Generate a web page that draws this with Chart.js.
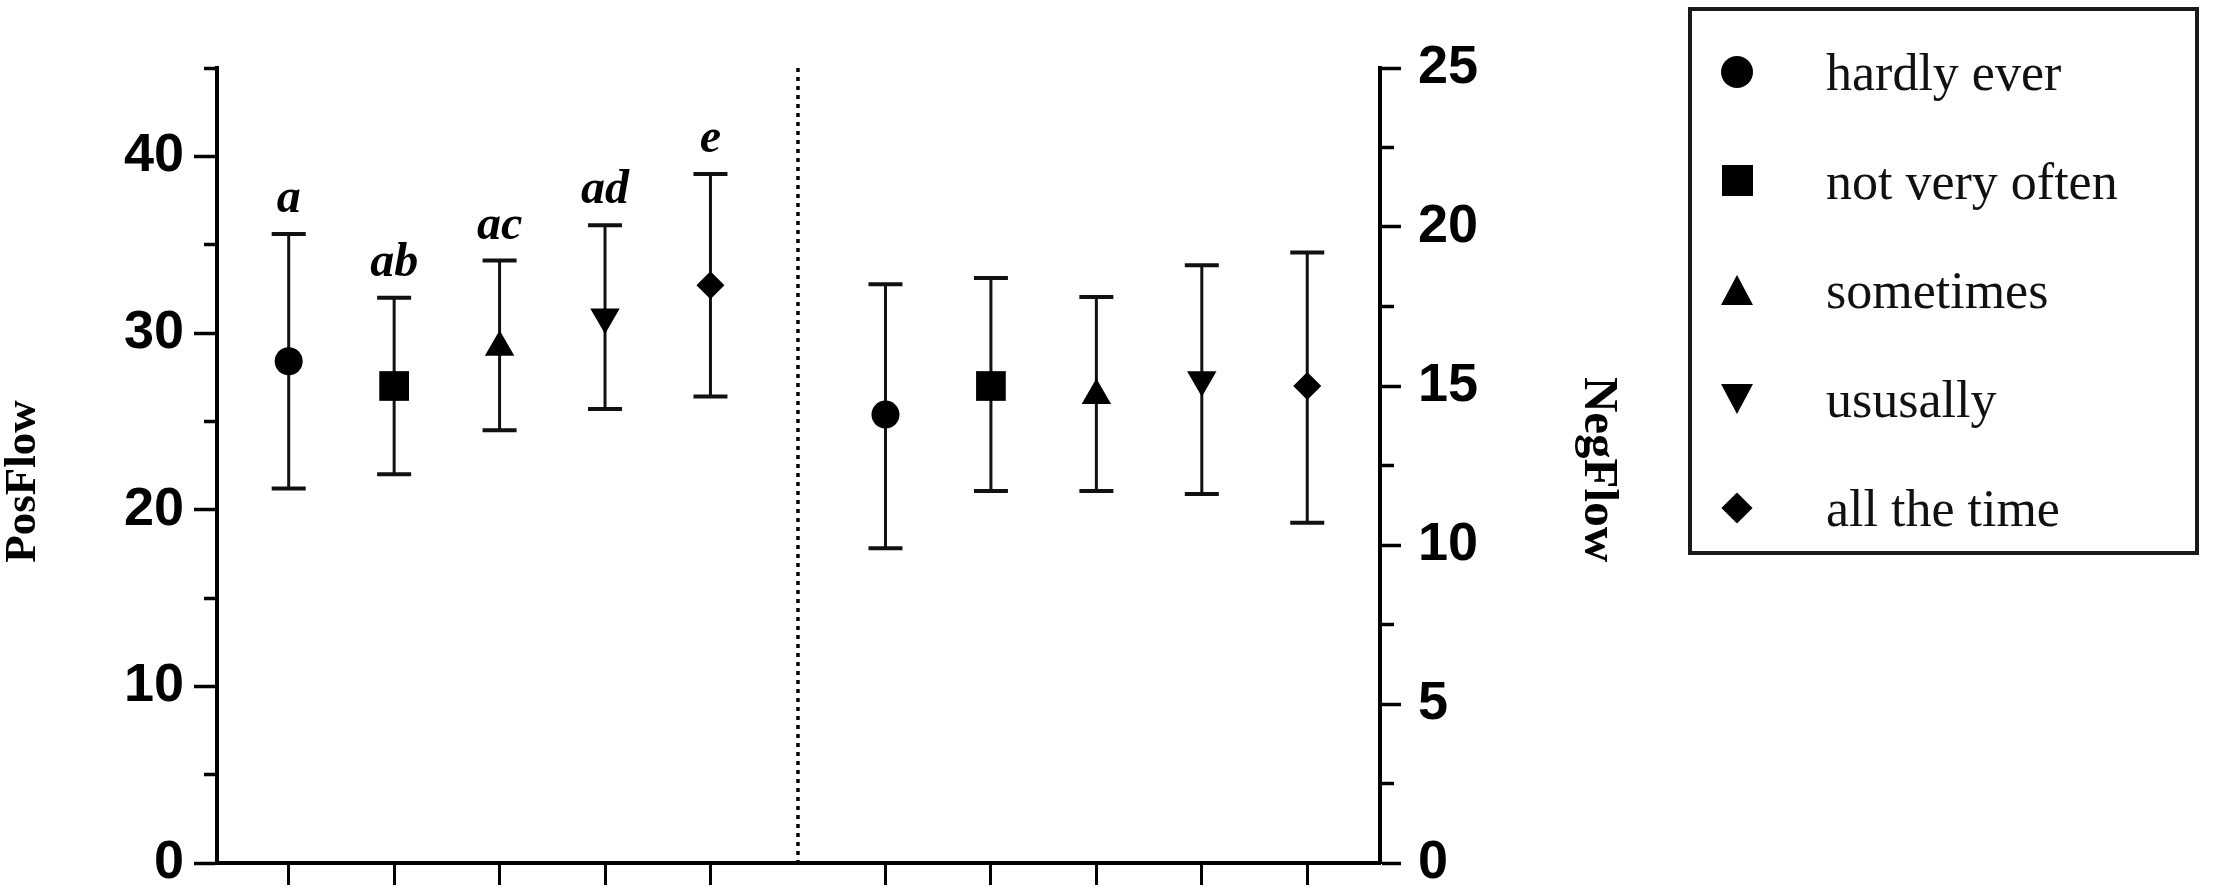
<!DOCTYPE html>
<html>
<head>
<meta charset="utf-8">
<script src="https://cdn.jsdelivr.net/npm/chart.js@4.4.1/dist/chart.umd.min.js"></script>
<style>
  html, body { margin: 0; padding: 0; background: #fff; }
  #wrap { position: relative; width: 2228px; height: 894px; }
  #legend {
    position: absolute; left: 1688px; top: 7px; width: 511px; height: 548px;
    box-sizing: border-box; border: 4px solid #1a1a1a; padding-top: 6px;
  }
  .row { position: relative; height: 109px; }
  .sym { position: absolute; }
  .txt {
    position: absolute; left: 134px; top: 50%; transform: translateY(-50%);
    font: 52px "Liberation Serif", "Times New Roman", serif; color: #111; white-space: nowrap;
  }
</style>
</head>
<body>
<div id="wrap">
  <canvas id="chart" width="2228" height="894"></canvas>
  <div id="legend"></div>
</div>
<script>
// frequency groups, same order in both panels
const categories = ['hardly ever', 'not very often', 'sometimes', 'ususally', 'all the time'];
const sigLetters = ['a', 'ab', 'ac', 'ad', 'e'];

// PosFlow (left axis): mean and error-bar ends
const posMean = [28.4, 27.0, 29.2, 30.9, 32.7];
const posLow = [21.2, 22.0, 24.5, 25.7, 26.4];
const posHigh = [35.6, 32.0, 34.1, 36.1, 39.0];

// NegFlow (right axis)
const negMean = [14.1, 15.0, 14.7, 15.2, 15.0];
const negLow = [9.9, 11.7, 11.7, 11.6, 10.7];
const negHigh = [18.2, 18.4, 17.8, 18.8, 19.2];

// marker look per group
const shapes = ['circle', 'rect', 'triangle', 'triangle', 'rectRot'];
const rotations = [0, 0, 0, 180, 0];
const radii = [14, 21, 17, 17, 14];

const NEG_OFFSET = 5.66;   // where the second panel starts on x
const SEPARATOR = 5.83;    // dotted divider
const serif = '"Liberation Serif", "Times New Roman", serif';
const sans = '"Liberation Sans", Arial, sans-serif';

function points(means, offset) {
  return means.map((m, i) => ({ x: i + 1 + offset, y: m }));
}
const tickXs = points(posMean, 0).concat(points(negMean, NEG_OFFSET)).map((p) => p.x);

const markerOpts = {
  showLine: false,
  pointStyle: shapes,
  pointRotation: rotations,
  pointRadius: radii,
  pointHoverRadius: radii,
  pointBackgroundColor: '#000',
  pointBorderColor: '#000',
  pointBorderWidth: 0
};

const errorBars = {
  id: 'errorBars',
  beforeDatasetsDraw(chart) {
    const ctx = chart.ctx;
    const xs = chart.scales.x;
    const area = chart.chartArea;
    // dotted divider between the two panels
    ctx.save();
    ctx.strokeStyle = '#000';
    ctx.lineWidth = 3.5;
    ctx.setLineDash([4, 5]);
    const sx = xs.getPixelForValue(SEPARATOR);
    ctx.beginPath();
    ctx.moveTo(sx, area.top);
    ctx.lineTo(sx, area.bottom);
    ctx.stroke();
    ctx.restore();

    chart.data.datasets.forEach((ds) => {
      const ys = chart.scales[ds.yAxisID];
      ds.data.forEach((p, i) => {
        const x = xs.getPixelForValue(p.x);
        const yTop = ys.getPixelForValue(ds.high[i]);
        const yBot = ys.getPixelForValue(ds.low[i]);
        ctx.save();
        ctx.strokeStyle = '#111';
        ctx.lineWidth = 3;
        ctx.beginPath();
        ctx.moveTo(x, yTop);
        ctx.lineTo(x, yBot);
        ctx.stroke();
        ctx.lineWidth = 4;
        ctx.beginPath();
        ctx.moveTo(x - 17, yTop);
        ctx.lineTo(x + 17, yTop);
        ctx.moveTo(x - 17, yBot);
        ctx.lineTo(x + 17, yBot);
        ctx.stroke();
        ctx.restore();
      });
    });
  },
  afterDatasetsDraw(chart) {
    const ctx = chart.ctx;
    const xs = chart.scales.x;
    chart.data.datasets.forEach((ds) => {
      if (!ds.letters) return;
      const ys = chart.scales[ds.yAxisID];
      ctx.save();
      ctx.fillStyle = '#000';
      ctx.font = 'italic bold 48px ' + serif;
      ctx.textAlign = 'center';
      ctx.textBaseline = 'alphabetic';
      ds.data.forEach((p, i) => {
        ctx.fillText(ds.letters[i], xs.getPixelForValue(p.x), ys.getPixelForValue(ds.high[i]) - 22);
      });
      ctx.restore();
    });
  },
  afterDraw(chart) {
    // axis titles, rotated like the original
    const ctx = chart.ctx;
    const { y, y1 } = chart.scales;
    ctx.save();
    ctx.fillStyle = '#000';
    ctx.textAlign = 'center';
    ctx.textBaseline = 'middle';
    ctx.font = 'bold 45px ' + serif;
    ctx.translate(y.left + 23, (y.top + y.bottom) / 2 + 16);
    ctx.rotate(-Math.PI / 2);
    ctx.fillText('PosFlow', 0, 0);
    ctx.restore();
    ctx.save();
    ctx.fillStyle = '#000';
    ctx.textAlign = 'center';
    ctx.textBaseline = 'middle';
    ctx.font = 'bold 49px ' + serif;
    ctx.translate(y1.right - 23, (y1.top + y1.bottom) / 2 + 4);
    ctx.rotate(Math.PI / 2);
    ctx.fillText('NegFlow', 0, 0);
    ctx.restore();
  }
};

function fixWidth(w) {
  return (s) => {
    s.width = w;
    s.paddingTop = 0;
    s.paddingBottom = 0;
  };
}

new Chart(document.getElementById('chart').getContext('2d'), {
  type: 'scatter',
  data: {
    datasets: [
      { label: 'PosFlow', data: points(posMean, 0), yAxisID: 'y', low: posLow, high: posHigh, letters: sigLetters, ...markerOpts },
      { label: 'NegFlow', data: points(negMean, NEG_OFFSET), yAxisID: 'y1', low: negLow, high: negHigh, ...markerOpts }
    ]
  },
  options: {
    responsive: false,
    animation: false,
    devicePixelRatio: 1,
    layout: { padding: { top: 68, bottom: 9, left: 0, right: 607 } },
    plugins: { legend: { display: false }, tooltip: { enabled: false } },
    scales: {
      x: {
        type: 'linear',
        min: 0.32,
        max: 11.35,
        afterBuildTicks: (s) => { s.ticks = tickXs.map((v) => ({ value: v })); },
        ticks: { display: false },
        grid: { drawOnChartArea: false, tickLength: 22, tickWidth: 3, tickColor: '#000' },
        border: { color: '#000', width: 4 }
      },
      y: {
        position: 'left',
        min: 0,
        max: 45,
        ticks: {
          stepSize: 5,
          padding: 10,
          color: '#000',
          font: { family: sans, size: 54, weight: 'bold' },
          callback: (v) => (v % 10 === 0 ? v : '')
        },
        grid: {
          drawOnChartArea: false,
          tickLength: 23,
          tickWidth: 3.5,
          tickColor: '#000',
          tickBorderDash: (c) => (c.tick && c.tick.value % 10 !== 0 ? [0, 10, 13, 100] : [])
        },
        border: { color: '#000', width: 4 },
        afterFit: fixWidth(217)
      },
      y1: {
        position: 'right',
        min: 0,
        max: 25,
        ticks: {
          stepSize: 2.5,
          padding: 17,
          color: '#000',
          font: { family: sans, size: 54, weight: 'bold' },
          callback: (v) => (v % 5 === 0 ? v : '')
        },
        grid: {
          drawOnChartArea: false,
          tickLength: 21,
          tickWidth: 3.5,
          tickColor: '#000',
          tickBorderDash: (c) => (c.tick && c.tick.value % 5 !== 0 ? [12, 100] : [])
        },
        border: { color: '#000', width: 4 },
        afterFit: fixWidth(241)
      }
    }
  },
  plugins: [errorBars]
});

// legend box
const legend = document.getElementById('legend');
function symbol(i) {
  const el = document.createElement('div');
  el.className = 'sym';
  const cx = 45;
  const s = el.style;
  if (i === 0) {
    Object.assign(s, { width: '32px', height: '32px', borderRadius: '50%', background: '#000', left: (cx - 16) + 'px', top: 'calc(50% - 16px)' });
  } else if (i === 1) {
    Object.assign(s, { width: '31px', height: '31px', background: '#000', left: (cx - 15.5) + 'px', top: 'calc(50% - 15.5px)' });
  } else if (i === 2 || i === 3) {
    Object.assign(s, { width: '0', height: '0', borderLeft: '16px solid transparent', borderRight: '16px solid transparent', left: (cx - 16) + 'px', top: 'calc(50% - 15px)' });
    if (i === 2) s.borderBottom = '30px solid #000';
    else s.borderTop = '30px solid #000';
  } else {
    Object.assign(s, { width: '22px', height: '22px', background: '#000', left: (cx - 11) + 'px', top: 'calc(50% - 11px)', transform: 'rotate(45deg)' });
  }
  return el;
}
categories.forEach((name, i) => {
  const row = document.createElement('div');
  row.className = 'row';
  row.appendChild(symbol(i));
  const t = document.createElement('div');
  t.className = 'txt';
  t.textContent = name;
  row.appendChild(t);
  legend.appendChild(row);
});
</script>
</body>
</html>
